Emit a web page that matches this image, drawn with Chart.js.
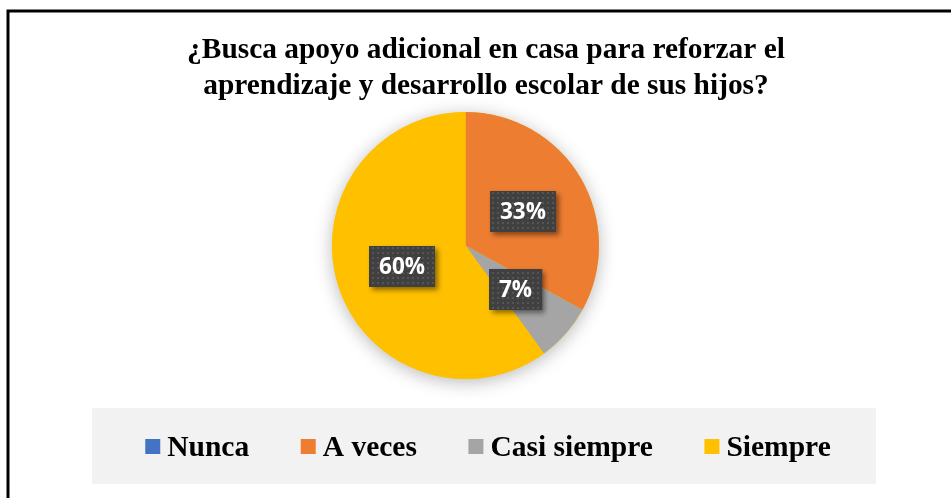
<!DOCTYPE html>
<html>
<head>
<meta charset="utf-8">
<script src="https://cdn.jsdelivr.net/npm/chart.js@4"></script>
<style>
html,body{margin:0;padding:0;background:#fff;}
canvas{display:block;}
</style>
</head>
<body>
<canvas id="c" width="951" height="498"></canvas>
<script>
const titleLines = ['¿Busca apoyo adicional en casa para reforzar el', 'aprendizaje y desarrollo escolar de sus hijos?'];
const categories = ['Nunca', 'A veces', 'Casi siempre', 'Siempre'];
const values = [0, 33, 7, 60];
const colors = ['#4472C4', '#ED7D31', '#A5A5A5', '#FFC000'];

function makePattern(ctx){
  const p = document.createElement('canvas');
  p.width = 5; p.height = 5;
  const pc = p.getContext('2d');
  pc.fillStyle = '#404040';
  pc.fillRect(0,0,5,5);
  pc.fillStyle = '#555555';
  pc.fillRect(2,2,2,2);
  return ctx.createPattern(p, 'repeat');
}

const decor = {
  id: 'decor',
  beforeDraw(chart){
    const ctx = chart.ctx;
    ctx.save();
    ctx.fillStyle = '#ffffff';
    ctx.fillRect(0,0,chart.width,chart.height);
    // frame
    ctx.strokeStyle = '#000000';
    ctx.lineWidth = 3;
    ctx.strokeRect(8, 11, 1000, 600);
    // title
    ctx.fillStyle = '#000000';
    ctx.font = 'bold 29.4px "Liberation Serif"';
    ctx.textAlign = 'center';
    ctx.textBaseline = 'alphabetic';
    ctx.fillText(titleLines[0], 486, 58);
    ctx.fillText(titleLines[1], 486, 94);
    // legend box
    ctx.fillStyle = '#F2F2F2';
    ctx.fillRect(92, 408, 784, 76);
    // legend items
    ctx.font = 'bold 29.5px "Liberation Serif"';
    ctx.textAlign = 'left';
    const sq = 15, gapIn = 7, gapOut = 51.5;
    const widths = categories.map(t => sq + gapIn + ctx.measureText(t).width);
    const total = widths.reduce((a,b)=>a+b,0) + gapOut*(categories.length-1);
    let x = 488 - total/2;
    categories.forEach((t,i)=>{
      ctx.fillStyle = colors[i];
      ctx.fillRect(x, 439, sq, sq);
      ctx.fillStyle = '#000000';
      ctx.fillText(t, x + sq + gapIn, 456);
      x += widths[i] + gapOut;
    });
    ctx.restore();
  },
  beforeDatasetsDraw(chart){
    const meta = chart.getDatasetMeta(0);
    const a = meta.data[0];
    const ctx = chart.ctx;
    ctx.save();
    ctx.shadowColor = 'rgba(0,0,0,0.28)';
    ctx.shadowBlur = 18;
    ctx.shadowOffsetY = 3;
    ctx.fillStyle = '#FFC000';
    ctx.beginPath();
    ctx.arc(a.x, a.y, a.outerRadius, 0, Math.PI*2);
    ctx.fill();
    ctx.restore();
  },
  afterDatasetsDraw(chart){
    const ctx = chart.ctx;
    const meta = chart.getDatasetMeta(0);
    const pat = makePattern(ctx);
    ctx.save();
    ctx.font = 'bold 22.5px "Open Sans"';
    ctx.textAlign = 'center';
    ctx.textBaseline = 'middle';
    meta.data.forEach((arc,i)=>{
      const v = values[i];
      if (!v) return;
      const pos = arc.tooltipPosition();
      const txt = Math.round(v) + '%';
      const w = ctx.measureText(txt).width + 20;
      const h = 41;
      const bx = Math.round(pos.x - w/2), by = Math.round(pos.y - h/2);
      ctx.save();
      ctx.shadowColor = 'rgba(0,0,0,0.45)';
      ctx.shadowBlur = 5;
      ctx.shadowOffsetX = 3;
      ctx.shadowOffsetY = 3;
      ctx.fillStyle = '#404040';
      ctx.fillRect(bx, by, w, h);
      ctx.restore();
      ctx.fillStyle = pat;
      ctx.fillRect(bx, by, w, h);
      ctx.fillStyle = '#ffffff';
      ctx.fillText(txt, pos.x, pos.y + 1);
    });
    ctx.restore();
  }
};

new Chart(document.getElementById('c'), {
  type: 'pie',
  data: {
    labels: categories,
    datasets: [{
      data: values,
      backgroundColor: colors,
      borderWidth: 0
    }]
  },
  options: {
    responsive: false,
    animation: false,
    layout: { padding: { left: 332, right: 352, top: 112, bottom: 119 } },
    plugins: {
      legend: { display: false },
      title: { display: false },
      tooltip: { enabled: false }
    }
  },
  plugins: [decor]
});
</script>
</body>
</html>
